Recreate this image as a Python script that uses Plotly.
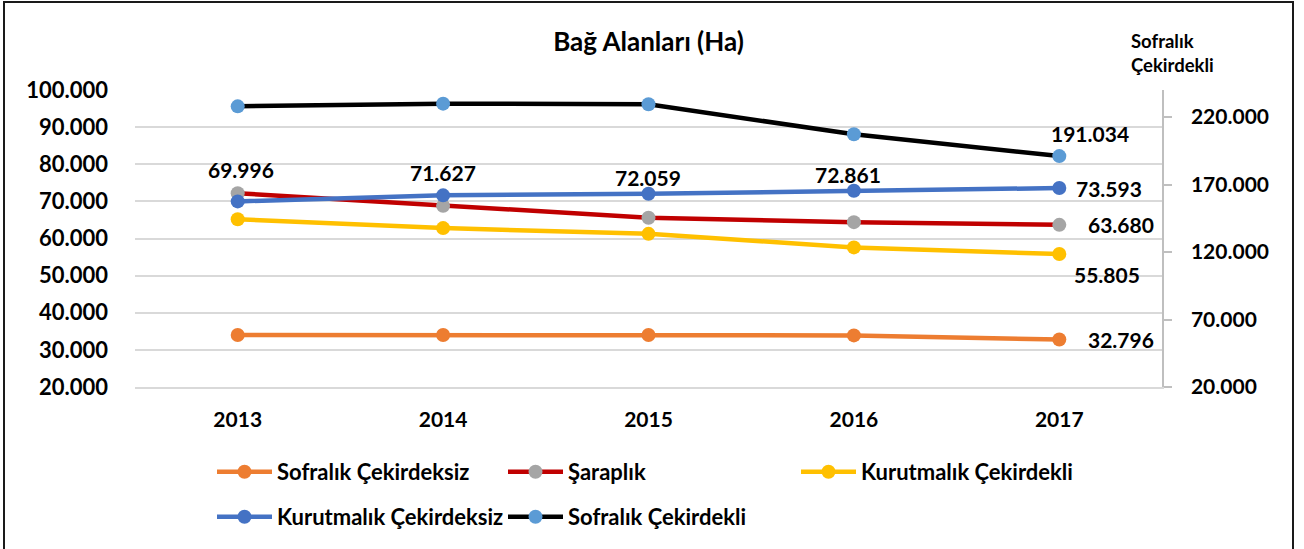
import plotly.graph_objects as go

# ---------------- data ----------------
years = ["2013", "2014", "2015", "2016", "2017"]
sofralik_cekirdeksiz = [34000, 34000, 34000, 33900, 32796]
saraplik = [72200, 68800, 65600, 64400, 63680]
kurutmalik_cekirdekli = [65200, 62800, 61250, 57600, 55805]
kurutmalik_cekirdeksiz = [69996, 71627, 72059, 72861, 73593]
sofralik_cekirdekli = [227900, 229900, 229400, 207200, 191034]

series_names = ["Sofralık Çekirdeksiz", "Şaraplık", "Kurutmalık Çekirdekli",
                "Kurutmalık Çekirdeksiz", "Sofralık Çekirdekli"]
title_text = "Bağ Alanları (Ha)"
right_axis_title = "Sofralık<br>Çekirdekli"

left_range = [20000, 100000]
left_dtick = 10000
right_range = [20000, 240000]
right_dtick = 50000

# ---------------- layout helpers ----------------
W, H = 1304, 549
PL, PR, PT, PB = 135, 1162, 90, 387   # plot area in pixels
FONT = "Lato, 'Liberation Sans', sans-serif"


def px_x(p):
    return (p - PL) / (PR - PL)


def px_y(p):
    return (PB - p) / (PB - PT)


def fmt(v):
    return f"{v:,}".replace(",", ".")


styles = [
    dict(line="#ED7D31", marker="#ED7D31", axis="y", legend="legend"),
    dict(line="#C00000", marker="#A5A5A5", axis="y", legend="legend2"),
    dict(line="#FFC000", marker="#FFC000", axis="y", legend="legend3"),
    dict(line="#4472C4", marker="#4472C4", axis="y", legend="legend4"),
    dict(line="#000000", marker="#5B9BD5", axis="y2", legend="legend5"),
]
all_values = [sofralik_cekirdeksiz, saraplik, kurutmalik_cekirdekli,
              kurutmalik_cekirdeksiz, sofralik_cekirdekli]

fig = go.Figure()
for name, vals, st in zip(series_names, all_values, styles):
    fig.add_trace(go.Scatter(
        x=years, y=vals, name=name, mode="lines+markers",
        line=dict(color=st["line"], width=4.5),
        marker=dict(color=st["marker"], size=14),
        yaxis=st["axis"], legend=st["legend"], cliponaxis=False,
    ))

lab_font = dict(family=FONT, size=21, color="#000000", weight="bold")
annotations = []
last = len(years) - 1
# labels above the Kurutmalık Çekirdeksiz points (2013-2016)
above_shift = [32, 23, 16, 16]
above_x = [3, 0, -1, -6]
for i in range(4):
    annotations.append(dict(x=i, y=kurutmalik_cekirdeksiz[i], xref="x", yref="y",
                            text=fmt(kurutmalik_cekirdeksiz[i]), showarrow=False,
                            yshift=above_shift[i], xshift=above_x[i], font=lab_font))
# last-point labels
annotations += [
    dict(x=last, y=kurutmalik_cekirdeksiz[last], xref="x", yref="y", text=fmt(kurutmalik_cekirdeksiz[last]),
         showarrow=False, xanchor="left", xshift=15, font=lab_font),
    dict(x=last, y=saraplik[last], xref="x", yref="y", text=fmt(saraplik[last]),
         showarrow=False, xanchor="left", xshift=27, font=lab_font),
    dict(x=last, y=kurutmalik_cekirdekli[last], xref="x", yref="y", text=fmt(kurutmalik_cekirdekli[last]),
         showarrow=False, xshift=48, yshift=-20, font=lab_font),
    dict(x=last, y=sofralik_cekirdeksiz[last], xref="x", yref="y", text=fmt(sofralik_cekirdeksiz[last]),
         showarrow=False, xanchor="left", xshift=27, font=lab_font),
    dict(x=last, y=sofralik_cekirdekli[last], xref="x", yref="y2", text=fmt(sofralik_cekirdekli[last]),
         showarrow=False, xshift=31, yshift=23, font=lab_font),
    # right axis title
    dict(x=px_x(1129), y=px_y(53), xref="paper", yref="paper", text=right_axis_title,
         showarrow=False, xanchor="left", yanchor="middle", align="left",
         font=dict(family=FONT, size=18.5, color="#000000", weight="bold")),
]

leg_font = dict(family=FONT, size=22, color="#000000", weight="bold")
leg_pos = {
    "legend": (212, 472), "legend2": (503, 472), "legend3": (796, 472),
    "legend4": (212, 517), "legend5": (503, 517),
}
legend_layout = {}
for key, (lx, ly) in leg_pos.items():
    legend_layout[key] = dict(x=px_x(lx), y=px_y(ly), xanchor="left", yanchor="middle",
                              font=leg_font, bgcolor="rgba(0,0,0,0)", borderwidth=0,
                              itemwidth=55)

fig.update_layout(
    width=W, height=H,
    margin=dict(l=PL, r=W - PR, t=PT, b=H - PB, autoexpand=False),
    paper_bgcolor="white", plot_bgcolor="white",
    separators=",.",
    showlegend=True,
    title=dict(text=title_text, x=0.5, xref="paper", xanchor="center",
               y=1 - 42 / H, yref="container", yanchor="middle",
               font=dict(family=FONT, size=26, color="#000000", weight="bold")),
    xaxis=dict(type="category", range=[-0.5, 4.5], showgrid=False, zeroline=False,
               showline=True, linecolor="#D9D9D9", linewidth=1.5, ticks="",
               tickfont=dict(family=FONT, size=21, color="#000000", weight="bold"),
               ticklabelstandoff=13),
    yaxis=dict(range=left_range, tick0=left_range[0], dtick=left_dtick, tickformat=",d",
               showgrid=True, gridcolor="#D9D9D9", gridwidth=1.5, zeroline=False,
               showline=False, ticks="",
               tickfont=dict(family=FONT, size=22, color="#000000", weight="bold"),
               ticklabelstandoff=26),
    yaxis2=dict(range=right_range, tick0=right_range[0], dtick=right_dtick, tickformat=",d",
                overlaying="y", side="right", showgrid=False, zeroline=False,
                showline=True, linecolor="#BFBFBF", linewidth=1.5,
                ticks="outside", ticklen=8, tickcolor="#BFBFBF", tickwidth=1.5,
                tickfont=dict(family=FONT, size=21, color="#000000", weight="bold"),
                ticklabelstandoff=15),
    annotations=annotations,
    shapes=[dict(type="rect", xref="paper", yref="paper",
                 x0=px_x(4), x1=px_x(1293), y0=px_y(556), y1=px_y(2),
                 line=dict(color="#1A1A1A", width=2), fillcolor="rgba(0,0,0,0)", layer="above")],
    **legend_layout,
)

fig.write_html("out.html", config={"displayModeBar": False},
               post_script="document.body.style.margin='0px';")
